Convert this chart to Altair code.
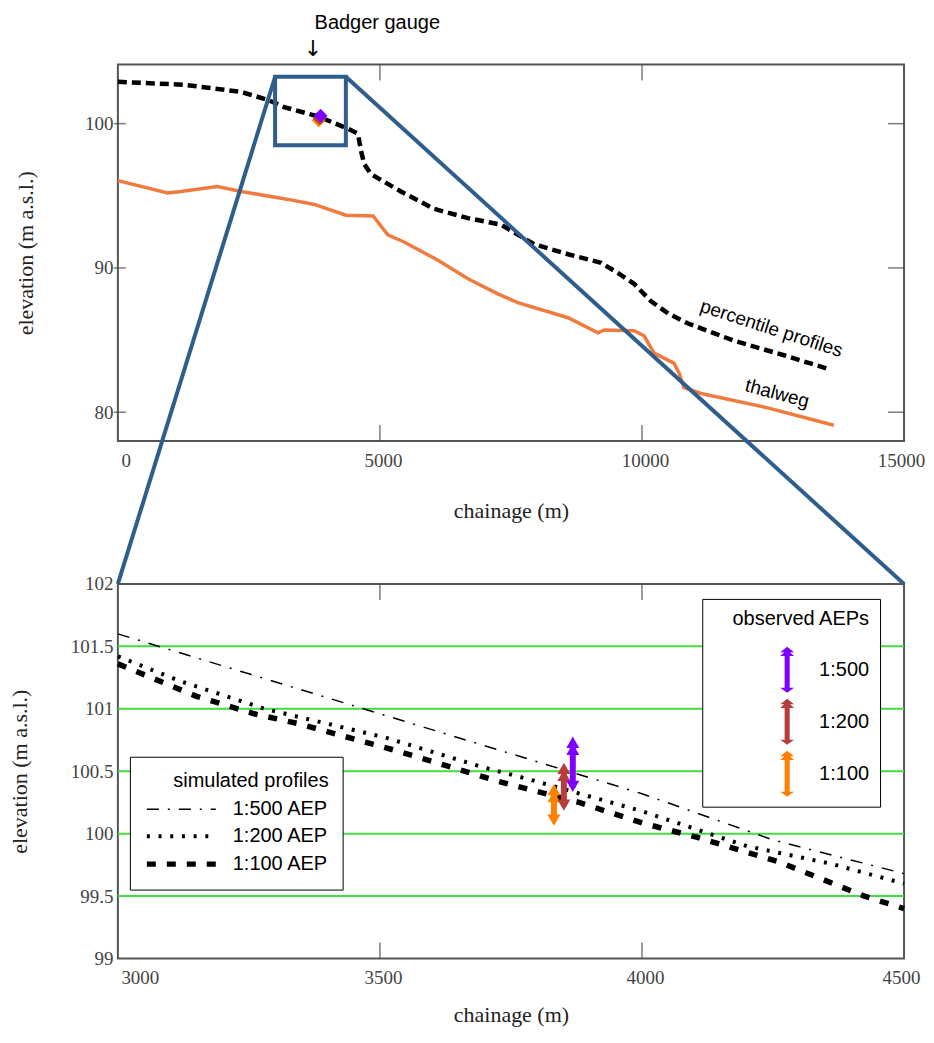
import altair as alt
import pandas as pd

# ---------------- data ----------------
# top panel: long profile
thalweg_chainage = [0, 950, 1200, 1900, 2350, 3250, 3750, 4350, 4870, 5150, 5460, 6100,
                    6680, 7250, 7630, 8590, 9160, 9280, 9850, 10040, 10230, 10610, 10710,
                    10800, 11130, 12400, 13660]
thalweg_elev = [96.05, 95.2, 95.3, 95.65, 95.3, 94.75, 94.4, 93.65, 93.6, 92.3, 91.8, 90.55,
                89.25, 88.2, 87.6, 86.55, 85.5, 85.7, 85.65, 85.3, 84.1, 83.4, 82.7,
                81.7, 81.3, 80.3, 79.1]
pct_chainage = [0, 1260, 2350, 2860, 3170, 3820, 4390, 4580, 4640, 4700, 4830, 5400, 6030,
                6680, 7310, 7940, 8590, 9220, 9540, 9850, 10170, 10500, 10880, 11760, 12710, 13550]
pct_elev = [102.9, 102.7, 102.2, 101.65, 101.15, 100.5, 99.65, 99.3, 98.1, 97.2, 96.5, 95.3, 94.1,
            93.45, 93.0, 91.65, 90.95, 90.35, 89.65, 88.9, 87.7, 86.85, 86.15, 84.95, 83.95, 83.0]

# observed AEP ranges at the Badger gauge
obs_aep = ["1:500", "1:200", "1:100"]
obs_chainage = [3868, 3851, 3832]
obs_low = [100.33, 100.18, 100.06]
obs_high = [100.78, 100.57, 100.40]
obs_colors = ["#8000ff", "#b83c3c", "#ff8000"]

# simulated profiles (bottom panel)
sim_series = ["1:500 AEP", "1:200 AEP", "1:100 AEP"]
sim500_chainage = [3000, 3250, 3500, 3750, 4000, 4250, 4500]
sim500_elev = [101.6, 101.28, 100.96, 100.64, 100.32, 99.95, 99.68]
sim200_chainage = [3000, 3120, 3280, 3510, 3690, 3780, 4000, 4200, 4360, 4500]
sim200_elev = [101.42, 101.22, 101.0, 100.77, 100.54, 100.44, 100.18, 99.9, 99.76, 99.6]
sim100_chainage = [3000, 3150, 3260, 3345, 3535, 3725, 3880, 4005, 4106, 4264, 4424, 4500]
sim100_elev = [101.36, 101.1, 100.96, 100.88, 100.66, 100.42, 100.25, 100.08, 99.97, 99.77, 99.5, 99.4]

# axes / ticks
top_x_domain = [0, 15000]
top_y_domain = [78.0, 104.1]
top_x_labels = [0, 5000, 10000, 15000]
top_y_labels = [80, 90, 100]
top_frame_x = [5000, 10000]
bot_x_domain = [3000, 4500]
bot_y_domain = [99, 102]
bot_x_labels = [3000, 3500, 4000, 4500]
bot_y_labels = [99, 99.5, 100, 100.5, 101, 101.5, 102]
bot_grid = [99.5, 100, 100.5, 101, 101.5]
bot_frame_x = [3500, 4000]

# annotations
anno_text = ["percentile profiles", "thalweg"]
anno_chainage = [12470, 12580]
anno_elev = [85.8, 81.3]
gauge_label = ["Badger gauge"]
gauge_label_chainage = [4950]
gauge_arrow = ["\u2193"]
gauge_arrow_chainage = [3720]
zoom_chainage = [3000, 4350]
zoom_elev = [98.5, 103.25]

# ---------------- styling ----------------
SERIF = "Liberation Serif"
SANS = "Liberation Sans"
BLUE = "#2f5d8c"
ORANGE = "#f07b3f"
GREEN = "#40dc40"
TICK = "#444444"
TOP_W, TOP_H = 787, 377
BOT_W, BOT_H = 787, 375
GAP = 143


def x_axis(values, first, last, title_pad):
    return alt.Axis(values=values, title="chainage (m)", format="d",
                    labelAlign={"condition": {"test": f"datum.value == {first}", "value": "left"},
                                "value": "center"},
                    labelOffset={"condition": {"test": f"datum.value == {last}", "value": -3},
                                 "value": 3},
                    labelPadding=10, minExtent=30, maxExtent=30, titlePadding=title_pad)


def y_axis(values, title_pad, fmt):
    return alt.Axis(values=values, title="elevation (m a.s.l.)", format=fmt,
                    labelPadding=5, minExtent=45, maxExtent=45, titlePadding=title_pad)


X_TOP = alt.X("x:Q", scale=alt.Scale(domain=top_x_domain, nice=False, zero=False),
              axis=x_axis(top_x_labels, 0, 15000, 30))
Y_TOP = alt.Y("y:Q", scale=alt.Scale(domain=top_y_domain, nice=False, zero=False),
              axis=y_axis(top_y_labels, 35, "d"))
X_BOT = alt.X("x:Q", scale=alt.Scale(domain=bot_x_domain, nice=False, zero=False),
              axis=x_axis(bot_x_labels, 3000, 4500, 16))
Y_BOT = alt.Y("y:Q", scale=alt.Scale(domain=bot_y_domain, nice=False, zero=False),
              axis=y_axis(bot_y_labels, 41, "~g"))


def frame_ticks(xs, ys, xdom, ydom, X, Y):
    layers = []
    if xs:
        b = pd.DataFrame({"x": xs, "y": [ydom[0]] * len(xs)})
        t = pd.DataFrame({"x": xs, "y": [ydom[1]] * len(xs)})
        layers.append(alt.Chart(b).mark_tick(orient="vertical", size=16, thickness=1.5,
                                             color=TICK, yOffset=-8).encode(x=X, y=Y))
        layers.append(alt.Chart(t).mark_tick(orient="vertical", size=16, thickness=1.5,
                                             color=TICK, yOffset=8).encode(x=X, y=Y))
    if ys:
        l = pd.DataFrame({"x": [xdom[0]] * len(ys), "y": ys})
        r = pd.DataFrame({"x": [xdom[1]] * len(ys), "y": ys})
        layers.append(alt.Chart(l).mark_tick(orient="horizontal", size=12, thickness=1.5,
                                             color=TICK, xOffset=2).encode(x=X, y=Y))
        layers.append(alt.Chart(r).mark_tick(orient="horizontal", size=16, thickness=1.5,
                                             color=TICK, xOffset=-8).encode(x=X, y=Y))
    return layers


# ---------------- top panel ----------------
thalweg_df = pd.DataFrame({"x": thalweg_chainage, "y": thalweg_elev})
pct_df = pd.DataFrame({"x": pct_chainage, "y": pct_elev})
obs_df = pd.DataFrame({"aep": obs_aep, "x": obs_chainage, "lo": obs_low,
                       "hi": obs_high, "color": obs_colors})
obs_df["y"] = (obs_df["lo"] + obs_df["hi"]) / 2
top_obs_df = obs_df.iloc[::-1].reset_index(drop=True)

thalweg = alt.Chart(thalweg_df).mark_line(color=ORANGE, strokeWidth=3.5).encode(x=X_TOP, y=Y_TOP)
pct = alt.Chart(pct_df).mark_line(color="black", strokeWidth=4.5, strokeDash=[9, 5]).encode(
    x=X_TOP, y=Y_TOP)
diamonds = alt.Chart(top_obs_df).mark_point(shape="diamond", filled=True, size=190, opacity=1).encode(
    x=X_TOP, y=Y_TOP, color=alt.Color("color:N", scale=None))

anno_layers = []
for txt, cx, cy, ang in zip(anno_text, anno_chainage, anno_elev, [18, 15]):
    d = pd.DataFrame({"x": [cx], "y": [cy], "t": [txt]})
    anno_layers.append(alt.Chart(d).mark_text(font=SANS, fontSize=19, angle=ang, align="center",
                                              baseline="middle", color="black").encode(
        x=X_TOP, y=Y_TOP, text="t:N"))

gauge_df = pd.DataFrame({"x": gauge_label_chainage, "t": gauge_label})
gauge_txt = alt.Chart(gauge_df).mark_text(font=SANS, fontSize=20, align="center",
                                           baseline="middle", color="black").encode(
    x=X_TOP, y=alt.value(-42), text="t:N")
arrow_df = pd.DataFrame({"x": gauge_arrow_chainage, "t": gauge_arrow})
arrow_txt = alt.Chart(arrow_df).mark_text(font="DejaVu Sans", fontSize=22, align="center",
                                           baseline="middle", color="black").encode(
    x=X_TOP, y=alt.value(-16), text="t:N")

zoom_df = pd.DataFrame({"x": [zoom_chainage[0]], "x2": [zoom_chainage[1]],
                        "y": [zoom_elev[0]], "y2": [zoom_elev[1]]})
zoom_box = alt.Chart(zoom_df).mark_rect(filled=False, stroke=BLUE, strokeWidth=4).encode(
    x=X_TOP, x2="x2:Q", y=Y_TOP, y2="y2:Q")
zl_left = pd.DataFrame({"x": [zoom_chainage[0]], "y": [zoom_elev[1]]})
zl_right = pd.DataFrame({"x": [zoom_chainage[1]], "y": [zoom_elev[1]]})
zoom_line_l = alt.Chart(zl_left).mark_rule(color=BLUE, strokeWidth=4).encode(
    x=X_TOP, y=Y_TOP, x2=alt.value(0), y2=alt.value(TOP_H + GAP))
zoom_line_r = alt.Chart(zl_right).mark_rule(color=BLUE, strokeWidth=4).encode(
    x=X_TOP, y=Y_TOP, x2=alt.value(BOT_W), y2=alt.value(TOP_H + GAP))

top = alt.layer(
    thalweg, pct, diamonds,
    *frame_ticks(top_frame_x, top_y_labels, top_x_domain, top_y_domain, X_TOP, Y_TOP),
    *anno_layers, gauge_txt, arrow_txt, zoom_box, zoom_line_l, zoom_line_r
).properties(width=TOP_W, height=TOP_H)

# ---------------- bottom panel ----------------
sim_df = pd.concat([
    pd.DataFrame({"x": sim500_chainage, "y": sim500_elev, "series": sim_series[0]}),
    pd.DataFrame({"x": sim200_chainage, "y": sim200_elev, "series": sim_series[1]}),
    pd.DataFrame({"x": sim100_chainage, "y": sim100_elev, "series": sim_series[2]}),
], ignore_index=True)

# long horizontal legend stroke: path runs 3x beyond the unit box
LINE_PATH = "M-3,0H3"
sim_legend = alt.Legend(
    title="simulated profiles", orient="none", legendX=12, legendY=173, direction="vertical",
    strokeColor="black", fillColor="white", padding=14, cornerRadius=0,
    symbolType=LINE_PATH, symbolSize=529, symbolStrokeColor="black", symbolOffset=23,
    labelFont=SANS, labelFontSize=20, labelColor="black", labelOffset=37,
    titleFont=SANS, titleFontSize=20, titleFontWeight="normal", titleColor="black",
    titleAnchor="end", titlePadding=6, rowPadding=3)

grid_df = pd.DataFrame({"y": bot_grid})
grid = alt.Chart(grid_df).mark_rule(color=GREEN, strokeWidth=2).encode(y=Y_BOT)

sim_lines = alt.Chart(sim_df).mark_line(color="black").encode(
    x=X_BOT, y=Y_BOT,
    strokeDash=alt.StrokeDash("series:N", scale=alt.Scale(
        domain=sim_series, range=[[12, 9, 2, 9], [3, 8.7], [9, 11]]), legend=sim_legend),
    strokeWidth=alt.StrokeWidth("series:N", scale=alt.Scale(
        type="ordinal", domain=sim_series, range=[1.5, 4, 5.5]), legend=sim_legend),
)

ARROW_PATH = ("M0,-1L0.3,-0.76L0.13,-0.76L0.3,-0.6L0.11,-0.6L0.11,0.78L0.3,0.78L0,1"
              "L-0.3,0.78L-0.11,0.78L-0.11,-0.6L-0.3,-0.6L-0.13,-0.76L-0.3,-0.76Z")
obs_scale = alt.Scale(domain=obs_aep, range=obs_colors)
obs_legend = alt.Legend(
    title="observed AEPs", orient="none", legendX=585, legendY=15, direction="vertical",
    strokeColor="black", fillColor="white", padding=10, cornerRadius=0,
    symbolType=ARROW_PATH, symbolSize=2116, symbolStrokeWidth=0, symbolOpacity=1,
    symbolOffset=52,
    labelFont=SANS, labelFontSize=20, labelColor="black", labelOffset=9,
    titleFont=SANS, titleFontSize=20, titleFontWeight="normal", titleColor="black",
    titleAnchor="end", titlePadding=18, rowPadding=6)

obs_bars = alt.Chart(obs_df).mark_rule(strokeWidth=6, yOffset=6, y2Offset=-5).encode(
    x=X_BOT, y=alt.Y("hi:Q"), y2="lo:Q",
    color=alt.Color("color:N", scale=None))
obs_top2 = alt.Chart(obs_df).mark_point(shape="triangle-up", filled=True, size=170, opacity=1,
                                        yOffset=13).encode(
    x=X_BOT, y=alt.Y("hi:Q"), color=alt.Color("color:N", scale=None))
obs_bot = alt.Chart(obs_df).mark_point(shape="triangle-down", filled=True, size=170, opacity=1,
                                       yOffset=-6).encode(
    x=X_BOT, y=alt.Y("lo:Q"), color=alt.Color("color:N", scale=None))
obs_top1 = alt.Chart(obs_df).mark_point(shape="triangle-up", filled=True, size=170, opacity=1,
                                        yOffset=6).encode(
    x=X_BOT, y=alt.Y("hi:Q"), color=alt.Color("aep:N", scale=obs_scale, legend=obs_legend))

bottom = alt.layer(
    grid, sim_lines, obs_bars, obs_top2, obs_bot, obs_top1,
    *frame_ticks(bot_frame_x, [], bot_x_domain, bot_y_domain, X_BOT, Y_BOT),
).properties(width=BOT_W, height=BOT_H)

chart = alt.vconcat(top, bottom, spacing=GAP, bounds="flush").resolve_scale(
    color="independent", strokeDash="independent", strokeWidth="independent"
).resolve_legend(
    color="independent", strokeDash="independent", strokeWidth="independent"
).properties(
    padding={"left": 0, "top": 3, "right": 0, "bottom": 0}
).configure_view(
    stroke="#555555", strokeWidth=2
).configure_axis(
    domain=False, ticks=False, grid=False,
    labelFont=SERIF, labelFontSize=19, labelColor="#444444",
    titleFont=SERIF, titleFontSize=22, titleFontWeight="normal", titleColor="#222222",
)

chart.save("out.html", embed_options={"renderer": "svg", "actions": False})
